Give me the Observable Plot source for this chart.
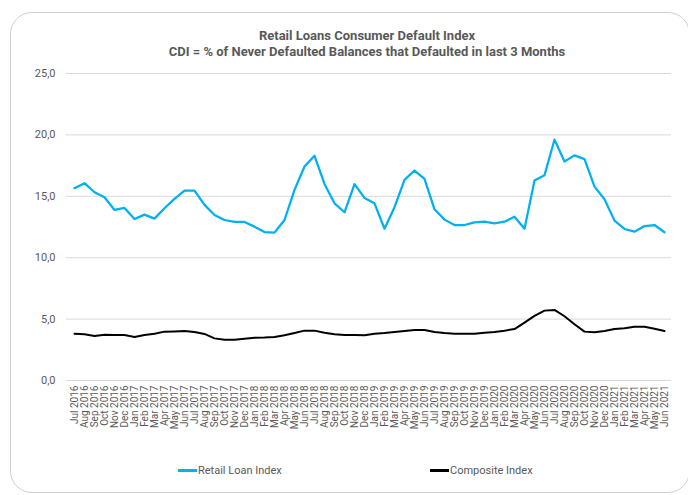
<!DOCTYPE html>
<html><head><meta charset="utf-8">
<script src="https://cdn.jsdelivr.net/npm/d3@7"></script>
<script src="https://cdn.jsdelivr.net/npm/@observablehq/plot@0.6"></script>
<style>
body{margin:0;width:688px;height:495px;position:relative;background:#fff;font-family:Roboto,sans-serif;overflow:hidden}
#card{position:absolute;left:10px;top:12px;width:680px;height:481px;border:1px solid #cfcfcf;border-radius:22px;box-sizing:border-box}
#title{position:absolute;left:0;width:734px;top:28px;text-align:center;font-weight:bold;font-size:13px;color:#595959;line-height:16px}
#chart{position:absolute;left:0;top:60px}
.leg{position:absolute;top:464px;font-size:11px;color:#595959;display:flex;align-items:center;white-space:nowrap}
.sw{display:inline-block;width:19px;height:2.5px;margin-right:1px}
</style></head>
<body>
<div id="card"></div>
<div id="title">Retail Loans Consumer Default Index<br>CDI = % of Never Defaulted Balances that Defaulted in last 3 Months</div>
<div id="chart"></div>
<div class="leg" style="left:178px"><span class="sw" style="background:#00B0F0"></span>Retail Loan Index</div>
<div class="leg" style="left:430px"><span class="sw" style="background:#000"></span>Composite Index</div>
<script>
const months = [
"Jul 2016","Aug 2016","Sep 2016","Oct 2016","Nov 2016","Dec 2016",
"Jan 2017","Feb 2017","Mar 2017","Apr 2017","May 2017","Jun 2017","Jul 2017","Aug 2017","Sep 2017","Oct 2017","Nov 2017","Dec 2017",
"Jan 2018","Feb 2018","Mar 2018","Apr 2018","May 2018","Jun 2018","Jul 2018","Aug 2018","Sep 2018","Oct 2018","Nov 2018","Dec 2018",
"Jan 2019","Feb 2019","Mar 2019","Apr 2019","May 2019","Jun 2019","Jul 2019","Aug 2019","Sep 2019","Oct 2019","Nov 2019","Dec 2019",
"Jan 2020","Feb 2020","Mar 2020","Apr 2020","May 2020","Jun 2020","Jul 2020","Aug 2020","Sep 2020","Oct 2020","Nov 2020","Dec 2020",
"Jan 2021","Feb 2021","Mar 2021","Apr 2021","May 2021","Jun 2021"];
const retailLoanIndex = [
15.66,16.07,15.33,14.92,13.89,14.05,
13.15,13.51,13.18,14.03,14.79,15.47,15.47,14.30,13.48,13.07,12.91,12.91,
12.53,12.09,12.04,13.07,15.52,17.43,18.30,16.01,14.43,13.70,15.99,14.87,
14.43,12.36,14.11,16.34,17.10,16.42,13.94,13.10,12.66,12.66,12.88,12.93,
12.80,12.93,13.34,12.36,16.28,16.72,19.61,17.84,18.33,18.03,15.79,14.76,
13.02,12.34,12.12,12.58,12.66,12.07];
const compositeIndex = [
3.81,3.76,3.62,3.73,3.71,3.71,
3.54,3.71,3.81,3.98,4.00,4.03,3.95,3.79,3.43,3.32,3.32,3.40,
3.48,3.50,3.54,3.68,3.87,4.06,4.06,3.89,3.76,3.71,3.71,3.68,
3.81,3.87,3.95,4.03,4.11,4.11,3.95,3.87,3.81,3.81,3.81,3.89,
3.95,4.06,4.19,4.71,5.26,5.69,5.75,5.23,4.58,3.98,3.92,4.03,
4.19,4.25,4.38,4.38,4.22,4.03];
const yTicks = [0,5,10,15,20,25];

const retail = months.map((m,i)=>({m, v: retailLoanIndex[i]}));
const comp = months.map((m,i)=>({m, v: compositeIndex[i]}));
const fmt = d => d.toFixed(1).replace(".", ",");

const chart = Plot.plot({
  width: 688, height: 380,
  marginTop: 13, marginBottom: 60, marginLeft: 66, marginRight: 17,
  style: {fontFamily: "Roboto, sans-serif", color: "#595959", background: "transparent"},
  x: {type: "point", domain: months, padding: 0.5, label: null},
  y: {domain: [0, 25], label: null},
  marks: [
    Plot.gridY(yTicks, {stroke: "#d9d9d9", strokeOpacity: 1, strokeWidth: 1}),
    Plot.axisY(yTicks, {tickSize: 0, tickPadding: 11, tickFormat: fmt, fontSize: 11, label: null, fill: "#595959"}),
    Plot.axisX(months, {tickSize: 0, tickPadding: 5, tickRotate: -90, fontSize: 10, label: null, fill: "#595959"}),
    Plot.line(retail, {x: "m", y: "v", stroke: "#00B0F0", strokeWidth: 2.25}),
    Plot.line(comp, {x: "m", y: "v", stroke: "#000000", strokeWidth: 2})
  ]
});
document.getElementById("chart").append(chart);
</script>
</body></html>
